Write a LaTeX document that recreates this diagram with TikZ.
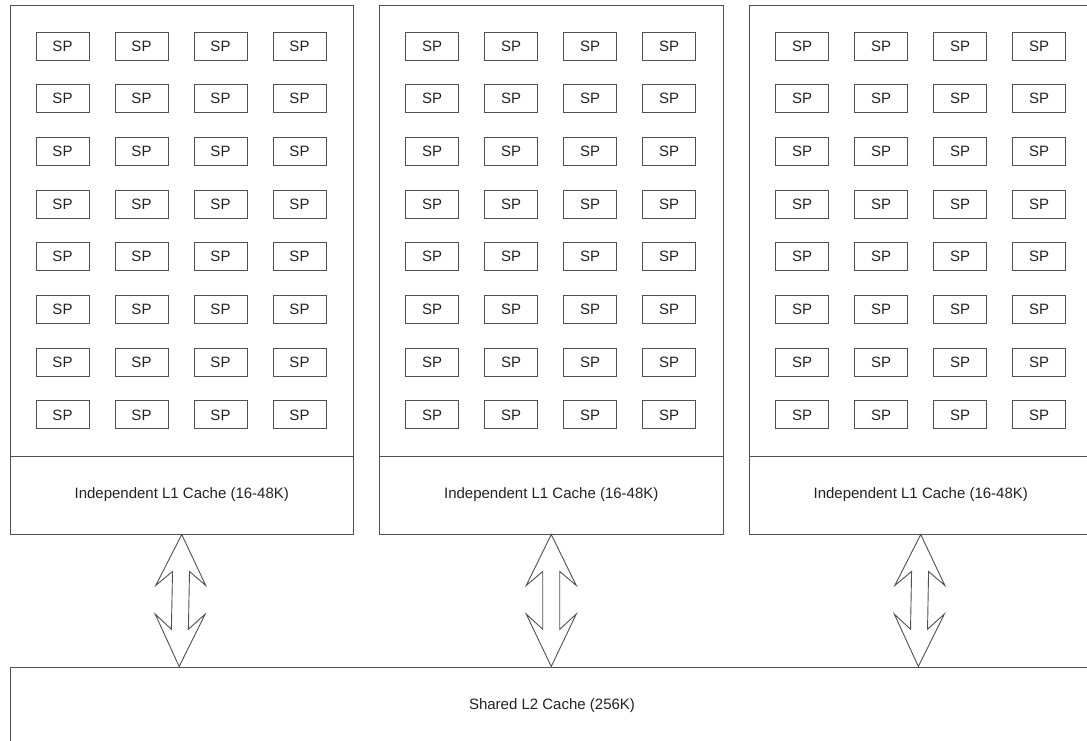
\documentclass[tikz,border=0pt]{standalone}
\usepackage{fontspec}
\setmainfont{Liberation Sans}
\usetikzlibrary{calc}
\definecolor{ln}{HTML}{505050}
\definecolor{tx}{HTML}{222222}
\begin{document}
\begin{tikzpicture}[x=1pt,y=-1pt,
  sp/.style={draw=ln, line width=0.9pt, minimum width=53pt, minimum height=28pt, inner sep=0pt, font=\fontsize{15}{18}\selectfont, text=tx},
  frame/.style={draw=ln, line width=1pt, inner sep=0pt, font=\fontsize{15}{18}\selectfont, text=tx},
  blockarrow/.style={draw=ln, line width=0.9pt, line join=miter}]
\useasboundingbox (0,0) rectangle (1087,741);
\clip (0,0) rectangle (1087,741);
\node[frame, minimum width=1084pt, minimum height=77pt] (l2) at (552,705.5) {Shared L2 Cache (256K)};
\foreach \b/\ox/\l/\sk in {1/0/10/-2.6, 2/369.5/379.5/0, 3/739.5/749/-2.4} {
  \node[frame, minimum width=343.5pt, minimum height=450pt] (core\b) at (\l+171.75,231) {};
  \node[frame, minimum width=343.5pt, minimum height=78pt] (cache\b) at (\l+171.75,495) {Independent L1 Cache (16-48K)};
  \foreach \c in {0,...,3} {
    \foreach \r in {0,...,7} {
      \node[sp] (sp\b-\r-\c) at (62.5+\ox+79*\c, 46+52.7*\r) {SP};
    }
  }
  \coordinate (T\b) at (cache\b.south);
  \coordinate (B\b) at ($(cache\b.south |- l2.north)+(\sk,0)$);
  \draw[blockarrow] (T\b) -- ($(T\b)!0.386!(B\b)+(-25,0)$) -- ($(T\b)!0.280!(B\b)+(-8.5,0)$)
    -- ($(T\b)!0.718!(B\b)+(-8.5,0)$) -- ($(T\b)!0.603!(B\b)+(-25,0)$) -- (B\b)
    -- ($(T\b)!0.603!(B\b)+(25,0)$) -- ($(T\b)!0.718!(B\b)+(8.5,0)$)
    -- ($(T\b)!0.280!(B\b)+(8.5,0)$) -- ($(T\b)!0.386!(B\b)+(25,0)$) -- cycle;
}
\end{tikzpicture}
\end{document}
